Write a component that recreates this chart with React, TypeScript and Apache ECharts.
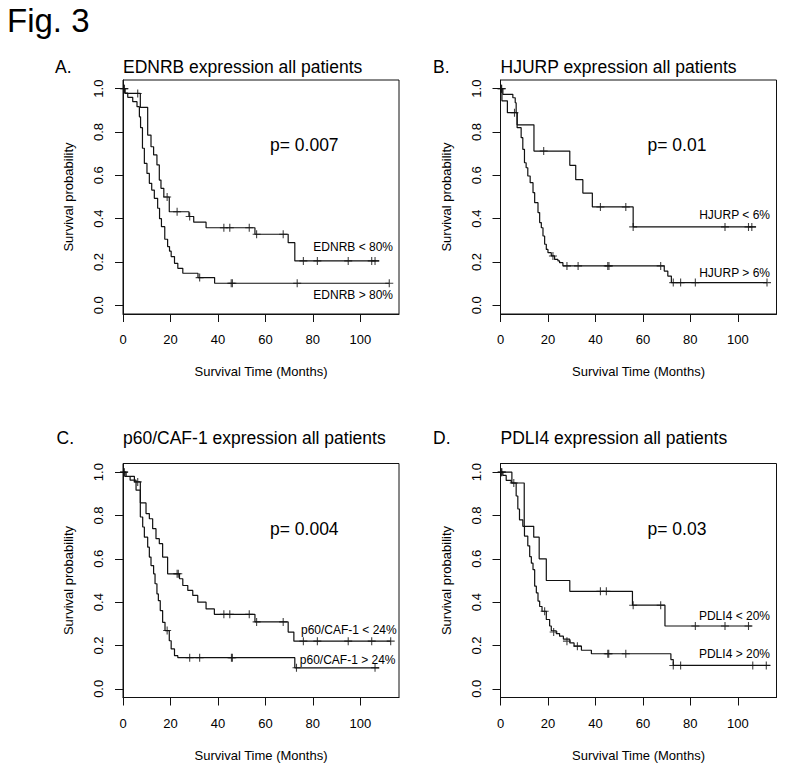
import React, { useEffect, useRef } from 'react';
import * as echarts from 'echarts';

// ---------- data ----------
const xTicks = [0, 20, 40, 60, 80, 100];
const yTicks = [0, 0.2, 0.4, 0.6, 0.8, 1.0];

// Panel A: EDNRB
const ednrbLowSteps = [[0,1],[0.8,0.978],[7.3,0.914],[10.4,0.786],[11.8,0.732],[12.9,0.694],[14.3,0.648],[15.3,0.578],[16.0,0.54],[17.2,0.5],[19.5,0.432],[27.8,0.41],[29.8,0.384],[35.0,0.358],[55.6,0.328],[69.6,0.289],[72.4,0.205],[108,0.205]];
const ednrbLowCensor = [[0.4,1],[6.2,0.978],[18.6,0.5],[22.8,0.432],[28.1,0.41],[42.5,0.358],[45,0.358],[53.2,0.358],[56.3,0.328],[67.5,0.328],[76,0.205],[81.9,0.205],[94.9,0.205],[104.8,0.205],[106.2,0.205]];
const ednrbHighSteps = [[0,1],[0.8,0.98],[2,0.96],[4.1,0.94],[5.9,0.917],[6.9,0.87],[7.4,0.82],[8.2,0.725],[9,0.655],[10.1,0.609],[11.1,0.563],[12.1,0.532],[13.2,0.494],[14.6,0.448],[15.4,0.4],[16.2,0.363],[17.6,0.305],[18.8,0.271],[19.6,0.25],[20.3,0.225],[21.7,0.194],[23.1,0.171],[25.2,0.148],[31.6,0.128],[38.6,0.102],[112.2,0.102]];
const ednrbHighCensor = [[0.6,1],[32.3,0.128],[45.6,0.102],[46.1,0.102],[73.4,0.102],[112.2,0.102]];

// Panel B: HJURP
const hjurpLowSteps = [[0,1],[0.6,0.944],[2.9,0.889],[7,0.833],[14.1,0.712],[29.2,0.646],[31.7,0.58],[34.7,0.518],[38.7,0.454],[55.9,0.362],[107.7,0.362]];
const hjurpLowCensor = [[0.4,1],[5.9,0.889],[18.2,0.712],[42.1,0.454],[52.8,0.454],[55.9,0.362],[94.6,0.362],[104.5,0.362],[105.9,0.362]];
const hjurpHighSteps = [[0,1],[1,0.974],[5.2,0.958],[6.2,0.935],[6.6,0.889],[7,0.82],[8.7,0.774],[9.4,0.72],[10.1,0.658],[10.8,0.635],[11.5,0.597],[12.5,0.566],[13.7,0.52],[14.4,0.474],[15.8,0.428],[16.5,0.382],[17.2,0.358],[17.9,0.32],[18.6,0.282],[19.3,0.258],[20,0.243],[21.4,0.228],[22.8,0.212],[24.2,0.205],[24.9,0.197],[26.3,0.182],[69,0.158],[70.5,0.135],[72,0.105],[112.3,0.105]];
const hjurpHighCensor = [[0.5,1],[22.1,0.228],[28,0.182],[32.7,0.182],[45.2,0.182],[45.7,0.182],[67.5,0.182],[72.8,0.105],[75.9,0.105],[82.1,0.105],[112.3,0.105]];

// Panel C: p60/CAF-1
const cafLowSteps = [[0,1],[1.3,0.981],[4.8,0.955],[7.3,0.858],[9.7,0.809],[11.1,0.785],[12.5,0.739],[13.9,0.693],[15.3,0.67],[16.7,0.608],[18.8,0.531],[23.8,0.508],[25.2,0.477],[27.3,0.454],[29.4,0.431],[31.5,0.4],[35,0.369],[38.5,0.344],[55.6,0.309],[69.6,0.262],[72,0.22],[112.8,0.22]];
const cafLowCensor = [[0.4,1],[6.2,0.955],[22.8,0.531],[23.3,0.531],[42.5,0.344],[45,0.344],[53.2,0.344],[56.3,0.309],[67.5,0.309],[76,0.22],[81.9,0.22],[94.9,0.22],[104.8,0.22],[112.8,0.22]];
const cafHighSteps = [[0,1],[0.8,0.98],[3,0.963],[5.5,0.917],[7.3,0.793],[8.3,0.747],[9,0.7],[10.4,0.654],[11.1,0.608],[11.8,0.569],[12.9,0.531],[13.5,0.485],[14.3,0.438],[14.9,0.407],[15.7,0.361],[16.7,0.307],[17.7,0.269],[19.5,0.222],[20.3,0.184],[21.7,0.153],[23.1,0.144],[72.4,0.097],[108,0.097]];
const cafHighCensor = [[0.5,1],[18.6,0.269],[28.1,0.144],[32.3,0.144],[45.7,0.144],[46.1,0.144],[73.1,0.097],[106.2,0.097]];

// Panel D: PDLI4
const pdliLowSteps = [[0,1],[4.8,0.95],[10.0,0.75],[14,0.7],[16.3,0.6],[19.3,0.5],[29.2,0.45],[55.6,0.386],[69.3,0.29],[105.9,0.29]];
const pdliLowCensor = [[0.5,1],[42.1,0.45],[44.6,0.45],[55.9,0.386],[67.5,0.386],[82.1,0.29],[94.6,0.29],[104.5,0.29]];
const pdliHighSteps = [[0,1],[1,0.985],[2.4,0.962],[4.5,0.95],[6.6,0.89],[7.3,0.83],[8,0.78],[9.4,0.75],[10.1,0.705],[11.5,0.66],[12.3,0.61],[13,0.58],[13.7,0.55],[14.4,0.474],[15.1,0.443],[15.8,0.405],[16.5,0.38],[17.5,0.358],[19.3,0.32],[20.7,0.29],[21.4,0.268],[23.5,0.255],[24.9,0.243],[26.5,0.229],[29.2,0.212],[31,0.197],[34.1,0.178],[38.3,0.162],[71.8,0.135],[72.8,0.108],[113.7,0.108]];
const pdliHighCensor = [[0.5,1],[5.6,0.95],[18.6,0.358],[22.4,0.262],[28,0.22],[32.4,0.197],[45.2,0.162],[45.6,0.162],[52.8,0.162],[72.8,0.108],[75.9,0.108],[106.3,0.108],[112,0.108]];

const panelLetters = ['A.', 'B.', 'C.', 'D.'];
const panelTitles = [
  'EDNRB expression all patients',
  'HJURP expression all patients',
  'p60/CAF-1 expression all patients',
  'PDLI4 expression all patients',
];
const pValues = ['p= 0.007', 'p= 0.01', 'p= 0.004', 'p= 0.03'];
const lowLabels = ['EDNRB < 80%', 'HJURP < 6%', 'p60/CAF-1 < 24%', 'PDLI4 < 20%'];
const highLabels = ['EDNRB > 80%', 'HJURP > 6%', 'p60/CAF-1 > 24%', 'PDLI4 > 20%'];
const stepSets = [
  [ednrbLowSteps, ednrbHighSteps],
  [hjurpLowSteps, hjurpHighSteps],
  [cafLowSteps, cafHighSteps],
  [pdliLowSteps, pdliHighSteps],
];
const censorSets = [
  [ednrbLowCensor, ednrbHighCensor],
  [hjurpLowCensor, hjurpHighCensor],
  [cafLowCensor, cafHighCensor],
  [pdliLowCensor, pdliHighCensor],
];

// ---------- layout ----------
const FONT = '"Liberation Sans", Arial, Helvetica, sans-serif';
const INK = '#111';
const gridLayout = [
  { left: 123, top: 80 },
  { left: 500.5, top: 80 },
  { left: 123, top: 463.5 },
  { left: 500.5, top: 463.5 },
];
const GW = 276;
const GH = 234;
const titleBaselines = [73, 73, 444, 444];
const letterX = [55, 433, 56.5, 433];
// annotation positions relative to grid left/top
const pPos = { dx: 147, dy: 65 };
const lowLabelPos = [
  { dx: 270, dy: 166.7 },
  { dx: 269.5, dy: 135 },
  { dx: 273.7, dy: 166.5 },
  { dx: 269.5, dy: 152.2 },
];
const highLabelPos = [
  { dx: 270, dy: 215 },
  { dx: 269.5, dy: 192.7 },
  { dx: 272.5, dy: 196.5 },
  { dx: 269.5, dy: 190.8 },
];

const PLUS = 'path://M0,5L10,5M5,0L5,10';

function buildOption() {
  const grids: any[] = [];
  const xAxes: any[] = [];
  const yAxes: any[] = [];
  const series: any[] = [];
  const graphics: any[] = [];

  graphics.push({
    type: 'text', x: 7, y: 31.7 - 0.3465 * 33,
    style: { text: 'Fig. 3', fontSize: 33, fontFamily: FONT, fill: '#000', align: 'left', verticalAlign: 'middle' },
  });

  for (let i = 0; i < 4; i++) {
    const g = gridLayout[i];
    grids.push({
      left: g.left, top: g.top, width: GW, height: GH,
      show: true, borderColor: INK, borderWidth: 1, backgroundColor: 'transparent',
      containLabel: false,
    });
    xAxes.push({
      type: 'value', gridIndex: i, min: 0, max: 116.3,
      axisLine: { show: true, onZero: false, lineStyle: { color: INK, width: 1 } },
      axisTick: { show: true, inside: false, length: 8, customValues: xTicks, lineStyle: { color: INK, width: 1 } },
      axisLabel: { customValues: xTicks, margin: 19, fontSize: 13, color: '#000', fontFamily: FONT },
      splitLine: { show: false },
      name: 'Survival Time (Months)', nameLocation: 'middle', nameGap: 51,
      nameTextStyle: { fontSize: 13, color: '#000', fontFamily: FONT },
    });
    yAxes.push({
      type: 'value', gridIndex: i, min: -0.04, max: 1.04,
      axisLine: { show: true, onZero: false, lineStyle: { color: INK, width: 1 } },
      axisTick: { show: true, inside: false, length: 8, customValues: yTicks, lineStyle: { color: INK, width: 1 } },
      axisLabel: {
        customValues: yTicks, margin: 18, rotate: 90, fontSize: 13, color: '#000', fontFamily: FONT,
        formatter: (v: number) => v.toFixed(1),
      },
      splitLine: { show: false },
      name: 'Survival probability', nameLocation: 'middle', nameGap: 48,
      nameTextStyle: { fontSize: 13, color: '#000', fontFamily: FONT },
    });

    for (let k = 0; k < 2; k++) {
      series.push({
        type: 'line', xAxisIndex: i, yAxisIndex: i, data: stepSets[i][k], step: 'end',
        showSymbol: false, symbol: 'none', silent: true,
        lineStyle: { color: INK, width: 1.2 },
      });
      series.push({
        type: 'scatter', xAxisIndex: i, yAxisIndex: i, data: censorSets[i][k],
        symbol: PLUS, symbolSize: 8, silent: true,
        itemStyle: { color: 'none', borderColor: INK, borderWidth: 1.1 },
      });
    }

    const tb = titleBaselines[i];
    graphics.push({
      type: 'text', x: letterX[i], y: tb - 0.3465 * 17.5,
      style: { text: panelLetters[i], fontSize: 17.5, fontFamily: FONT, fill: '#000', align: 'left', verticalAlign: 'middle' },
    });
    graphics.push({
      type: 'text', x: g.left, y: tb - 0.3465 * 17.5,
      style: { text: panelTitles[i], fontSize: 17.5, fontFamily: FONT, fill: '#000', align: 'left', verticalAlign: 'middle' },
    });
    graphics.push({
      type: 'text', x: g.left + pPos.dx, y: g.top + pPos.dy,
      style: { text: pValues[i], fontSize: 17.5, fontFamily: FONT, fill: '#000', align: 'left', verticalAlign: 'middle' },
    });
    graphics.push({
      type: 'text', x: g.left + lowLabelPos[i].dx, y: g.top + lowLabelPos[i].dy,
      style: { text: lowLabels[i], fontSize: 12, fontFamily: FONT, fill: '#000', align: 'right', verticalAlign: 'middle' },
    });
    graphics.push({
      type: 'text', x: g.left + highLabelPos[i].dx, y: g.top + highLabelPos[i].dy,
      style: { text: highLabels[i], fontSize: 12, fontFamily: FONT, fill: '#000', align: 'right', verticalAlign: 'middle' },
    });
  }

  return {
    animation: false,
    backgroundColor: '#fff',
    textStyle: { fontFamily: FONT },
    grid: grids,
    xAxis: xAxes,
    yAxis: yAxes,
    series,
    graphic: { elements: graphics },
  };
}

export default function App() {
  const ref = useRef<HTMLDivElement>(null);
  useEffect(() => {
    document.body.style.margin = '0';
    const chart = echarts.init(ref.current as HTMLDivElement, null, { renderer: 'svg' });
    chart.setOption(buildOption() as any);
    return () => chart.dispose();
  }, []);
  return <div ref={ref} style={{ width: 786, height: 771, background: '#fff' }} />;
}
